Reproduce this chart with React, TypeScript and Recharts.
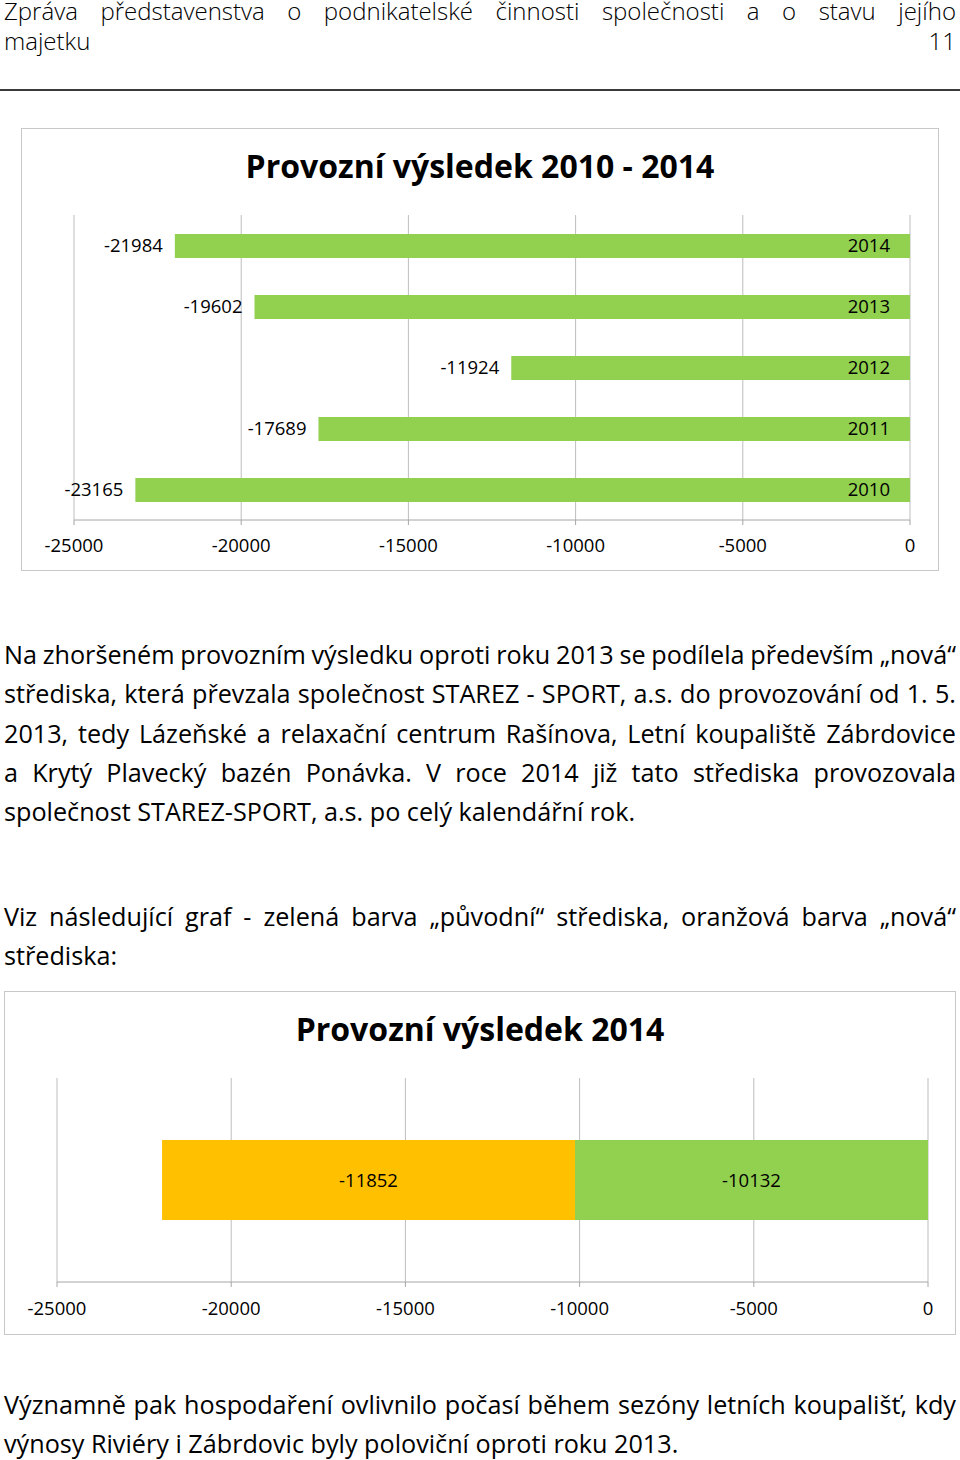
import React from 'react';
import { BarChart, Bar, XAxis, YAxis, CartesianGrid, LabelList } from 'recharts';

// ---- data ----
const years = ['2010', '2011', '2012', '2013', '2014'];
const results = [-23165, -17689, -11924, -19602, -21984];
const xTicks = [-25000, -20000, -15000, -10000, -5000, 0];

const category2014 = ['2014'];
const originalCentres = [-10132]; // zelená – „původní“ střediska
const newCentres = [-11852]; // oranžová – „nová“ střediska

const headerLine1 = 'Zpráva představenstva o podnikatelské činnosti společnosti a o stavu jejího';
const headerLeft = 'majetku';
const pageNumber = '11';

const para1 = [
  'Na zhoršeném provozním výsledku oproti roku 2013 se podílela především „nová“',
  'střediska, která převzala společnost STAREZ - SPORT, a.s. do provozování od 1. 5.',
  '2013, tedy Lázeňské a relaxační centrum Rašínova, Letní koupaliště Zábrdovice',
  'a Krytý Plavecký bazén Ponávka. V roce 2014 již tato střediska provozovala',
  'společnost STAREZ-SPORT, a.s. po celý kalendářní rok.',
];
const para2 = [
  'Viz následující graf - zelená barva „původní“ střediska, oranžová barva „nová“',
  'střediska:',
];
const para3 = [
  'Významně pak hospodaření ovlivnilo počasí během sezóny letních koupališť, kdy',
  'výnosy Riviéry i Zábrdovic byly poloviční oproti roku 2013.',
];

const title1 = 'Provozní výsledek 2010 - 2014';
const title2 = 'Provozní výsledek 2014';

const data1 = years.map((y, i) => ({ year: y, value: results[i] }));
const data2 = category2014.map((c, i) => ({ name: c, orig: originalCentres[i], nova: newCentres[i] }));

// ---- styles ----
const FONT = "'Open Sans', sans-serif";
const GREEN = '#92D050';
const ORANGE = '#FFC000';
const GRID = '#BDBDBD';
const AXIS = '#A6A6A6';
const BORDER = '#C8C8C8';
const CHART_FS = 18.5;

const JLine = ({ text }: { text: string }) => (
  <div style={{ display: 'flex', justifyContent: 'space-between', whiteSpace: 'nowrap' }}>
    {text.split(' ').map((w, i) => (
      <span key={i}>{w}</span>
    ))}
  </div>
);

const LLine = ({ text }: { text: string }) => <div style={{ whiteSpace: 'nowrap' }}>{text}</div>;

const Paragraph = ({ lines, top }: { lines: string[]; top: number }) => (
  <div
    style={{
      position: 'absolute',
      left: 4,
      top,
      width: 952,
      fontFamily: FONT,
      fontSize: 25.2,
      lineHeight: '39.3px',
      color: '#000',
    }}
  >
    {lines.map((l, i) =>
      i < lines.length - 1 ? <JLine key={i} text={l} /> : <LLine key={i} text={l} />
    )}
  </div>
);

// boundary tick marks of the category axis (drawn on the right, at value 0)
const BoundaryTick = (props: any) => {
  const { x, y, payload } = props;
  const half = payload && payload.offset ? payload.offset : 30.5;
  return (
    <g>
      <line x1={x - 6} x2={x} y1={y - half} y2={y - half} stroke={AXIS} />
      <line x1={x - 6} x2={x} y1={y + half} y2={y + half} stroke={AXIS} />
    </g>
  );
};

const OutsideLabel = (props: any) => {
  const { x, y, width, height, value } = props;
  const left = Math.min(Number(x), Number(x) + Number(width));
  return (
    <text
      x={left - 12}
      y={Number(y) + Number(height) / 2}
      dy="0.35em"
      textAnchor="end"
      fill="#000"
      fontSize={CHART_FS}
      fontFamily={FONT}
    >
      {value}
    </text>
  );
};

const YearLabel = (props: any) => {
  const { x, y, width, height, value } = props;
  const right = Math.max(Number(x), Number(x) + Number(width));
  return (
    <text
      x={right - 20}
      y={Number(y) + Number(height) / 2}
      dy="0.35em"
      textAnchor="end"
      fill="#000"
      fontSize={CHART_FS}
      fontFamily={FONT}
    >
      {value}
    </text>
  );
};

const titleStyle = (left: number, width: number, top: number): React.CSSProperties => ({
  position: 'absolute',
  left,
  top,
  width,
  textAlign: 'center',
  fontFamily: FONT,
  fontWeight: 700,
  fontSize: 32,
  lineHeight: '40px',
  color: '#000',
});

export default function App() {
  return (
    <div
      style={{
        position: 'absolute',
        left: 0,
        top: 0,
        width: 960,
        height: 1460,
        background: '#fff',
        overflow: 'hidden',
      }}
    >
      {/* header */}
      <div
        style={{
          position: 'absolute',
          left: 4,
          top: -2,
          width: 952,
          fontFamily: FONT,
          fontWeight: 300,
          fontSize: 24,
          lineHeight: '25px',
          color: '#000',
        }}
      >
        <JLine text={headerLine1} />
        <div style={{ display: 'flex', justifyContent: 'space-between', marginTop: 5 }}>
          <span>{headerLeft}</span>
          <span>{pageNumber}</span>
        </div>
      </div>
      <div style={{ position: 'absolute', left: 0, top: 89, width: 960, height: 2, background: '#3a3a3a' }} />

      {/* chart 1 */}
      <div
        style={{
          position: 'absolute',
          left: 21,
          top: 128,
          width: 918,
          height: 443,
          boxSizing: 'border-box',
          border: `1px solid ${BORDER}`,
        }}
      >
        <BarChart
          width={916}
          height={441}
          data={data1}
          layout="vertical"
          margin={{ top: 86, right: 28, bottom: 20, left: 52 }}
          barSize={24}
        >
          <CartesianGrid horizontal={false} stroke={GRID} />
          <XAxis
            type="number"
            domain={[-25000, 0]}
            ticks={xTicks}
            interval={0}
            allowDataOverflow
            height={30}
            tickSize={5}
            tickMargin={14}
            stroke={AXIS}
            tick={{ fill: '#000', fontSize: CHART_FS, fontFamily: FONT }}
          />
          <YAxis
            type="category"
            dataKey="year"
            orientation="right"
            reversed
            width={0}
            tickSize={0}
            tickMargin={0}
            tickLine={false}
            axisLine={{ stroke: AXIS }}
            interval={0}
            tick={<BoundaryTick />}
          />
          <Bar dataKey="value" fill={GREEN} isAnimationActive={false}>
            <LabelList dataKey="value" content={<OutsideLabel />} />
            <LabelList dataKey="year" content={<YearLabel />} />
          </Bar>
        </BarChart>
      </div>
      <div style={titleStyle(21, 918, 146)}>{title1}</div>

      <Paragraph lines={para1} top={635} />
      <Paragraph lines={para2} top={897} />

      {/* chart 2 */}
      <div
        style={{
          position: 'absolute',
          left: 4,
          top: 991,
          width: 952,
          height: 344,
          boxSizing: 'border-box',
          border: `1px solid ${BORDER}`,
        }}
      >
        <BarChart
          width={950}
          height={342}
          data={data2}
          layout="vertical"
          margin={{ top: 86, right: 27, bottom: 22, left: 52 }}
          barSize={80}
        >
          <CartesianGrid horizontal={false} stroke={GRID} />
          <XAxis
            type="number"
            domain={[-25000, 0]}
            ticks={xTicks}
            interval={0}
            allowDataOverflow
            height={30}
            tickSize={5}
            tickMargin={15}
            stroke={AXIS}
            tick={{ fill: '#000', fontSize: CHART_FS, fontFamily: FONT }}
          />
          <YAxis type="category" dataKey="name" hide />
          <Bar dataKey="orig" stackId="a" fill={GREEN} isAnimationActive={false}>
            <LabelList dataKey="orig" position="center" fill="#000" fontSize={CHART_FS} fontFamily={FONT} />
          </Bar>
          <Bar dataKey="nova" stackId="a" fill={ORANGE} isAnimationActive={false}>
            <LabelList dataKey="nova" position="center" fill="#000" fontSize={CHART_FS} fontFamily={FONT} />
          </Bar>
        </BarChart>
      </div>
      <div style={titleStyle(4, 952, 1009)}>{title2}</div>

      <Paragraph lines={para3} top={1385} />
    </div>
  );
}
